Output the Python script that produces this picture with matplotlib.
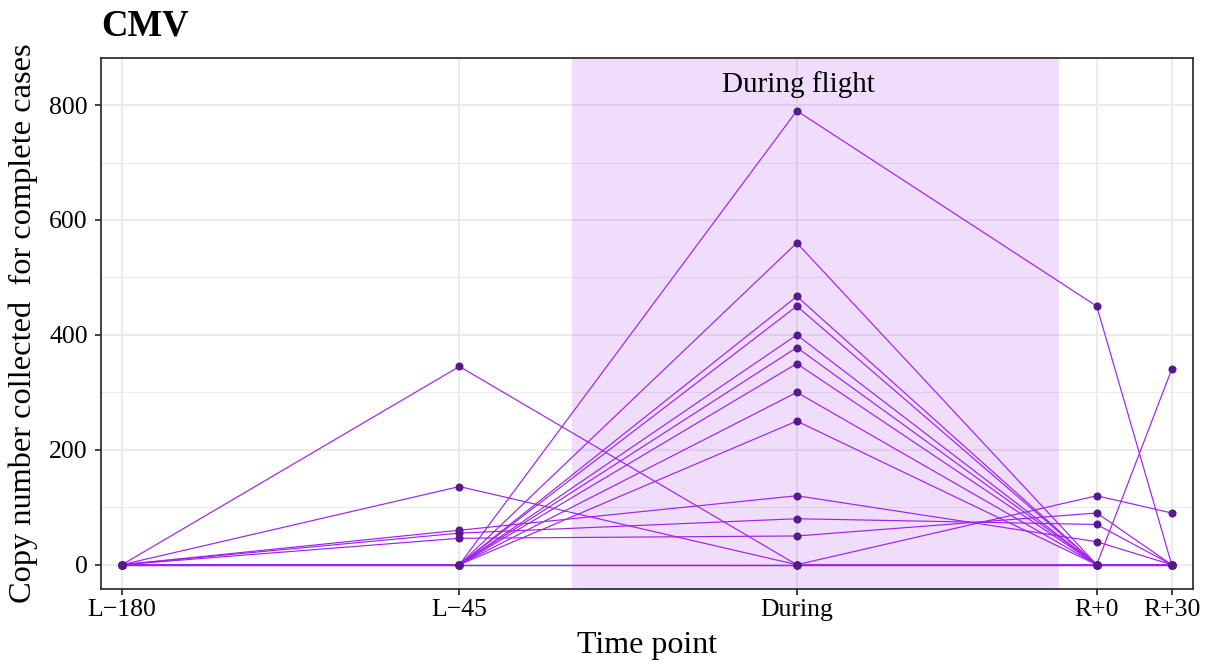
import matplotlib
matplotlib.use("Agg")
import matplotlib.pyplot as plt
import numpy as np

# time points (day positions on the x axis)
time_labels = ["L\u2212180", "L\u221245", "During", "R+0", "R+30"]
time_days = [-180, -45, 90, 210, 240]

# copy number per subject at each time point
l180 = [0, 0, 0, 0, 0, 0, 0, 0, 0, 0, 0, 0, 0, 0, 0, 0, 0]
l45 = [345, 136, 60, 55, 46, 0, 0, 0, 0, 0, 0, 0, 0, 0, 0, 0, 0]
during = [0, 0, 120, 80, 50, 790, 560, 467, 450, 400, 378, 350, 300, 250, 0, 0, 0]
r0 = [0, 120, 40, 70, 90, 450, 0, 0, 0, 0, 0, 0, 0, 0, 0, 0, 0]
r30 = [340, 90, 0, 0, 0, 0, 0, 0, 0, 0, 0, 0, 0, 0, 0, 0, 0]

flight_start, flight_end = 0, 195

plt.rcParams['font.family'] = ['Liberation Serif', 'DejaVu Serif']

fig = plt.figure(figsize=(12.1, 6.64), dpi=100)
ax = fig.add_axes([101 / 1210, 1 - 589 / 664, (1192.7 - 101) / 1210, (589 - 58.3) / 664])

ax.axvspan(flight_start, flight_end, color="#A020F0", alpha=0.15, lw=0, zorder=1)
ax.text((flight_start + flight_end) / 2 - 7, 835, "During flight", ha="center", va="center",
        fontsize=21, color="black", zorder=4)

subjects = np.array([l180, l45, during, r0, r30]).T
for vals in subjects:
    ax.plot(time_days, vals, color="#A020F0", lw=0.85, zorder=2)
for vals in subjects:
    ax.plot(time_days, vals, linestyle="none", marker="o", ms=5.8,
            color="#551A8B", mec="none", zorder=3)

ax.set_xlim(-188.4, 248.4)
ax.set_ylim(-42.3, 881.4)
ax.set_xticks(time_days)
ax.set_xticklabels(time_labels)
ax.set_yticks([0, 200, 400, 600, 800])
ax.set_yticks([100, 300, 500, 700], minor=True)

ax.grid(True, which="major", color="#EBEBEB", lw=1.4, zorder=0)
ax.grid(True, which="minor", axis="y", color="#EBEBEB", lw=0.7, zorder=0)
ax.set_axisbelow(True)

for s in ax.spines.values():
    s.set_color("#333333")
    s.set_linewidth(1.3)

ax.tick_params(axis="both", which="major", length=4.5, width=1.3, color="#333333",
               labelsize=18.5, labelcolor="black")
ax.tick_params(axis="x", pad=2.5)
ax.tick_params(axis="y", pad=5)
ax.tick_params(which="minor", length=0)

fig.text(101 / 1210, 1 - 36 / 664, "CMV", fontsize=26.5, fontweight="bold",
         ha="left", va="baseline")
fig.text(646.9 / 1210, 1 - 653 / 664, "Time point", fontsize=23, ha="center", va="baseline")
fig.text(23 / 1210, 1 - 323.6 / 664, "Copy number collected  for complete cases",
         fontsize=23.3, rotation=90, ha="center", va="center")

fig.savefig("out.png", dpi=100)
